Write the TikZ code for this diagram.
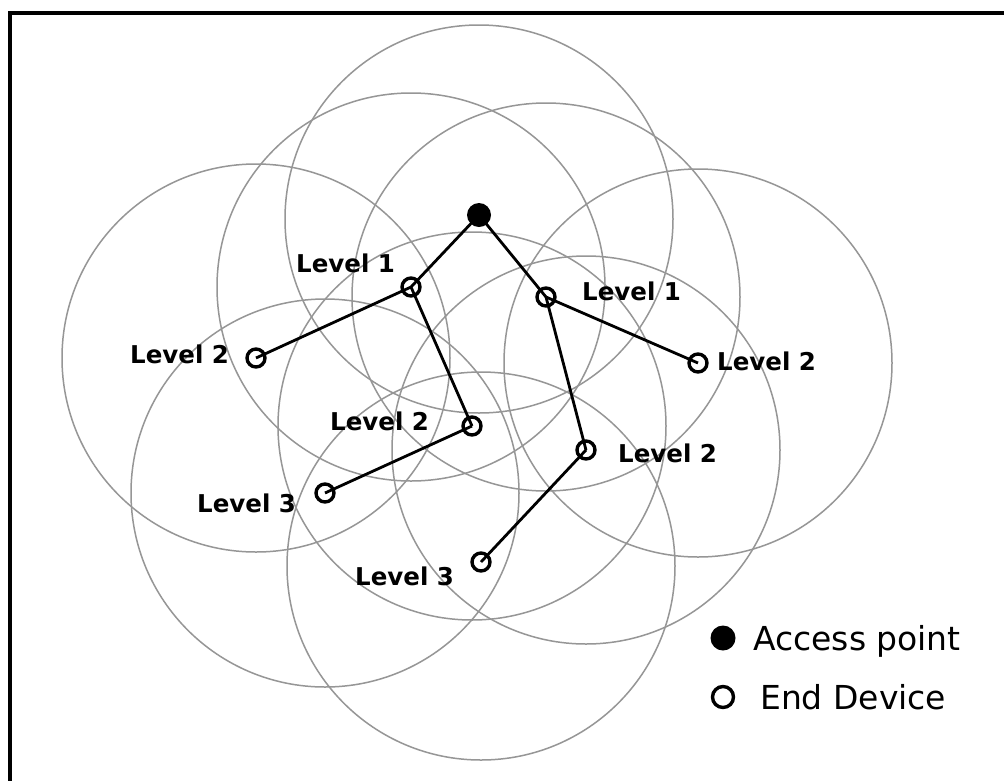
\documentclass[tikz,border=0pt]{standalone}
\usepackage{fontspec}
\setmainfont{DejaVu Sans}
\definecolor{rangegray}{RGB}{150,150,150}
\tikzset{
  rangecircle/.style={draw=rangegray, line width=1.5pt},
  link/.style={draw=black, line width=2.8pt},
  apdot/.style={circle, fill=black, inner sep=0pt, minimum size=24pt},
  enddev/.style={circle, draw=black, line width=3.4pt, inner sep=0pt, minimum size=18pt},
  lvl/.style={anchor=base west, inner sep=0pt, font=\bfseries\fontsize{24.5}{28}\selectfont},
  legendtxt/.style={anchor=base west, inner sep=0pt, font=\fontsize{33}{38}\selectfont}
}
\begin{document}
\begin{tikzpicture}[x=1pt, y=-1pt]
\useasboundingbox (0,0) rectangle (1004,780);
\clip (0,0) rectangle (1004,780);
\fill[white] (0,0) rectangle (1004,780);
% frame (cut off on right and bottom)
\draw[line width=4pt] (10,12.5) rectangle (1030,800);

% device positions
\coordinate (pap)  at (479,215);
\coordinate (p1l)  at (411,287);
\coordinate (p1r)  at (546,297);
\coordinate (p2l)  at (256,358);
\coordinate (p2r)  at (698,363);
\coordinate (p2ml) at (472,426);
\coordinate (p2mr) at (586,450);
\coordinate (p3l)  at (325,493);
\coordinate (p3m)  at (481,562);

% coverage circles
\foreach \p/\dy in {pap/4,p1l/0,p1r/0,p2l/0,p2r/0,p2ml/0,p2mr/0,p3l/0,p3m/4}
  \draw[rangecircle] ([yshift=-\dy pt]\p) circle[radius=194pt];

% nodes
\node[apdot]  (ap)  at (pap)  {};
\node[enddev] (l1l) at (p1l)  {};
\node[enddev] (l1r) at (p1r)  {};
\node[enddev] (l2l) at (p2l)  {};
\node[enddev] (l2r) at (p2r)  {};
\node[enddev] (l2ml) at (p2ml) {};
\node[enddev] (l2mr) at (p2mr) {};
\node[enddev] (l3l) at (p3l)  {};
\node[enddev] (l3m) at (p3m)  {};

% links
\draw[link] (ap.center) -- (l1l.center);
\draw[link] (ap.center) -- (l1r.center);
\draw[link] (l1l.center) -- (l2l.center);
\draw[link] (l1l.center) -- (l2ml.center);
\draw[link] (l2ml.center) -- (l3l.center);
\draw[link] (l1r.center) -- (l2r.center);
\draw[link] (l1r.center) -- (l2mr.center);
\draw[link] (l2mr.center) -- (l3m.center);

% labels
\node[lvl] (t1l)  at (296,272) {Level 1};
\node[lvl] (t1r)  at (582,300) {Level 1};
\node[lvl] (t2l)  at (130,363) {Level 2};
\node[lvl] (t2r)  at (717,370) {Level 2};
\node[lvl] (t2ml) at (330,430) {Level 2};
\node[lvl] (t2mr) at (618,462) {Level 2};
\node[lvl] (t3l)  at (197,512) {Level 3};
\node[lvl] (t3m)  at (355,585) {Level 3};

% legend
\node[circle, fill=black, inner sep=0pt, minimum size=25pt] (legap) at (723,638) {};
\node[circle, draw=black, line width=3.4pt, inner sep=0pt, minimum size=21pt] (legend) at (723,697) {};
\node[legendtxt] (legaptxt) at (753,650) {Access point};
\node[legendtxt] (legendtxt) at (760,709) {End Device};
\end{tikzpicture}
\end{document}
